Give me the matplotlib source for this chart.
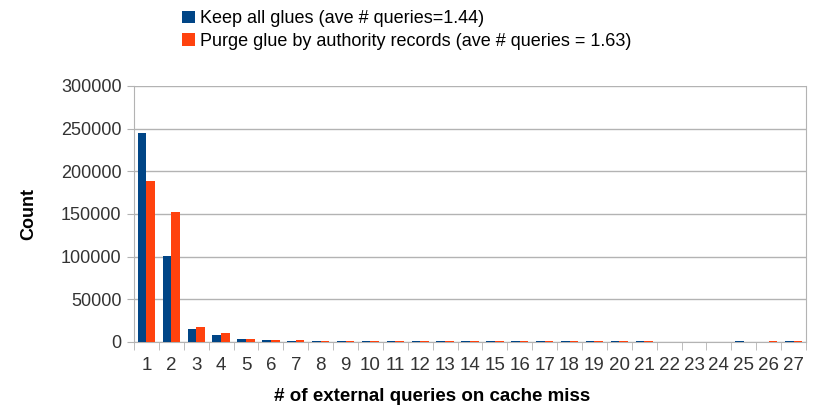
import numpy as np
import matplotlib
matplotlib.use("Agg")
import matplotlib.pyplot as plt

# number of external queries on a cache miss
queries = list(range(1, 28))
keep_all = [245000, 100500, 15500, 8200, 3000, 2200, 1300, 1200, 1200, 1200, 1200, 1200,
            1200, 1200, 1200, 1200, 1200, 1200, 1200, 1200, 1200, 0, 0, 0, 1200, 0, 1200]
purge = [189000, 152000, 17000, 10500, 3800, 2600, 2000, 1300, 1200, 1200, 1200, 1200,
         1200, 1200, 1200, 1200, 1200, 1200, 1200, 1200, 1200, 0, 0, 0, 0, 1200, 1200]

label_keep = "Keep all glues (ave # queries=1.44)"
label_purge = "Purge glue by authority records (ave # queries = 1.63)"

plt.rcParams['font.family'] = ['Liberation Sans', 'DejaVu Sans']

fig = plt.figure(figsize=(8.17, 4.12), dpi=100)
ax = fig.add_axes([134 / 817, 1 - 342 / 412, 672 / 817, 256 / 412])

x = np.arange(len(queries))
w = 0.35
b1 = ax.bar(x - w / 2, keep_all, w, color='#004586', label=label_keep, zorder=3)
b2 = ax.bar(x + w / 2, purge, w, color='#ff420e', label=label_purge, zorder=3)

ax.set_xlim(-0.5, len(queries) - 0.5)
ax.set_ylim(0, 300000)
ax.set_yticks(np.arange(0, 300001, 50000))
ax.yaxis.grid(True, color='#b3b3b3', linewidth=1)
ax.tick_params(axis='y', length=5, color='#b3b3b3', labelsize=13, labelcolor='#333333', pad=4)

ax.set_xticks(x)
ax.set_xticklabels([str(q) for q in queries], fontsize=13.5, color='#333333')
ax.tick_params(axis='x', length=0, pad=11)
ax.set_xticks(np.arange(-0.5, len(queries), 1), minor=True)
ax.tick_params(axis='x', which='minor', length=6, color='#b3b3b3')

ax.spines['top'].set_visible(False)
for s in ['left', 'right', 'bottom']:
    ax.spines[s].set_color('#b3b3b3')

ax.set_ylabel("Count", fontsize=13, fontweight='bold')
ax.yaxis.set_label_coords(-97 / 672, 0.5)
ax.set_xlabel("# of external queries on cache miss", fontsize=13.5, fontweight='bold')
ax.xaxis.set_label_coords((432 - 134) / 672, -46 / 256)

fig.legend(handles=[b1, b2], loc='upper left', bbox_to_anchor=(168 / 817, 1.01),
           frameon=False, fontsize=13, handlelength=0.7, handleheight=0.7,
           handletextpad=0.3, labelspacing=0.3, borderpad=0.3)

fig.savefig("out.png", dpi=100)
